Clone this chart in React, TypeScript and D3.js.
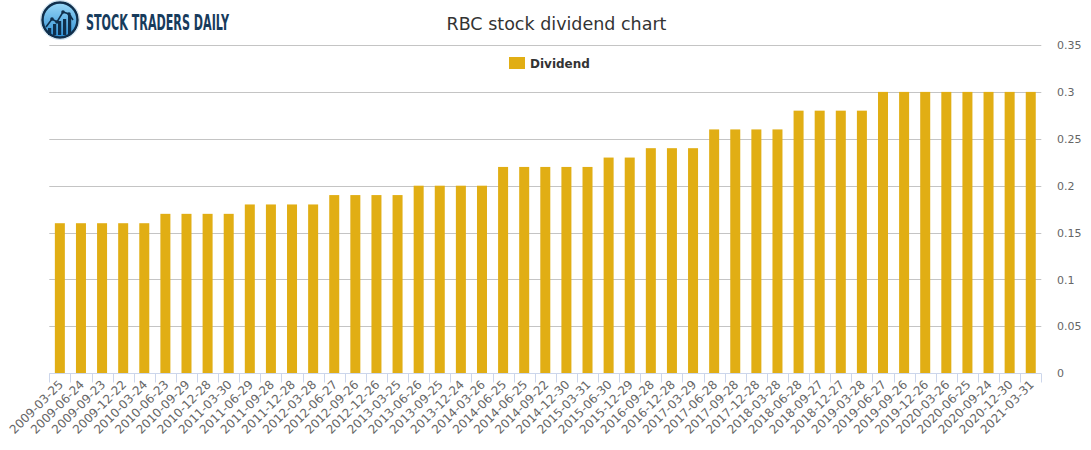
import React from "react";
import * as d3 from "d3";

const dates: string[] = [
  "2009-03-25", "2009-06-24", "2009-09-23", "2009-12-22", "2010-03-24",
  "2010-06-23", "2010-09-29", "2010-12-28", "2011-03-30", "2011-06-29",
  "2011-09-28", "2011-12-28", "2012-03-28", "2012-06-27", "2012-09-26",
  "2012-12-26", "2013-03-25", "2013-06-26", "2013-09-25", "2013-12-24",
  "2014-03-26", "2014-06-25", "2014-06-25", "2014-09-22", "2014-12-30",
  "2015-03-31", "2015-06-30", "2015-12-29", "2016-09-28", "2016-12-28",
  "2017-03-29", "2017-06-28", "2017-09-28", "2017-12-28", "2018-03-28",
  "2018-06-28", "2018-09-27", "2018-12-27", "2019-03-28", "2019-06-27",
  "2019-09-26", "2019-12-26", "2020-03-26", "2020-06-25", "2020-09-24",
  "2020-12-30", "2021-03-31",
];

const dividends: number[] = [
  0.16, 0.16, 0.16, 0.16, 0.16,
  0.17, 0.17, 0.17, 0.17,
  0.18, 0.18, 0.18, 0.18,
  0.19, 0.19, 0.19, 0.19,
  0.2, 0.2, 0.2, 0.2,
  0.22, 0.22, 0.22, 0.22, 0.22,
  0.23, 0.23,
  0.24, 0.24, 0.24,
  0.26, 0.26, 0.26, 0.26,
  0.28, 0.28, 0.28, 0.28,
  0.3, 0.3, 0.3, 0.3, 0.3, 0.3, 0.3, 0.3,
];

const yTicks: number[] = [0, 0.05, 0.1, 0.15, 0.2, 0.25, 0.3, 0.35];
const yTickLabels: string[] = ["0", "0.05", "0.1", "0.15", "0.2", "0.25", "0.3", "0.35"];

const W = 1091;
const H = 450;
const plotLeft = 49.3;
const plotRight = 1041.3;
const plotTop = 45;
const plotBottom = 373.3;
const barColor = "#E1AE14";
const gridColor = "#C4C4C4";
const axisColor = "#CCD6EB";
const font = "'DejaVu Sans', Verdana, sans-serif";

export default function App() {
  const idx = dates.map((_, i) => String(i));
  const xBar = d3
    .scaleBand<string>()
    .domain(idx)
    .range([plotLeft, plotRight])
    .paddingInner(0.526)
    .paddingOuter(0.263);
  const xBand = d3.scaleBand<string>().domain(idx).range([plotLeft, plotRight]).padding(0);
  const y = d3.scaleLinear().domain([0, 0.35]).range([plotBottom, plotTop]);

  const crisp = (v: number) => Math.round(v) + 0.5;

  const tickXs = idx.map((k) => xBand(k) as number).concat([plotRight]);

  return (
    <svg
      width={W}
      height={H}
      style={{ position: "absolute", left: 0, top: 0, background: "#fff" }}
      fontFamily={font}
    >
      <defs>
        <linearGradient id="logoFill" x1="0" y1="0" x2="0" y2="1">
          <stop offset="0%" stopColor="#9ad8f7" />
          <stop offset="100%" stopColor="#2d8fd4" />
        </linearGradient>
      </defs>
      <rect x={0} y={0} width={W} height={H} fill="#fff" />

      {/* logo */}
      <g>
        <circle cx={60} cy={20} r={17.5} fill="url(#logoFill)" stroke="#0f2f4c" strokeWidth={2.5} />
        <circle cx={60} cy={20} r={19.5} fill="none" stroke="#b9d7ea" strokeWidth={0.8} />
        {[
          [48, 28],
          [53, 24],
          [58, 21],
          [63, 19],
          [68, 15],
        ].map(([x, top], i) => (
          <rect key={i} x={x} y={top} width={3.2} height={35 - top} fill="#0f2f4c" />
        ))}
        <polyline
          points="46,27 52,19 57,22 63,12 69,14 73,20"
          fill="none"
          stroke="#0f2f4c"
          strokeWidth={1.6}
        />
        {[
          [52, 19],
          [57, 22],
          [63, 12],
          [69, 14],
        ].map(([cx, cy], i) => (
          <circle key={i} cx={cx} cy={cy} r={1.8} fill="#0f2f4c" />
        ))}
        <text
          x={86}
          y={29.5}
          fontFamily="'Liberation Sans Narrow', 'DejaVu Sans Condensed', 'Roboto Condensed', sans-serif"
          fontSize={21}
          fontWeight={700}
          fill="#173b5c"
          textLength={143}
          lengthAdjust="spacingAndGlyphs"
        >
          STOCK TRADERS DAILY
        </text>
      </g>

      {/* title */}
      <text x={556.5} y={29.5} textAnchor="middle" fontSize={17.5} fill="#333333">
        RBC stock dividend chart
      </text>

      {/* gridlines */}
      {yTicks.map((t, i) =>
        i === 0 ? null : (
          <line
            key={"g" + i}
            x1={plotLeft}
            x2={plotRight}
            y1={crisp(y(t))}
            y2={crisp(y(t))}
            stroke={gridColor}
            strokeWidth={1}
          />
        )
      )}

      {/* bars */}
      {dividends.map((v, i) => (
        <rect
          key={"b" + i}
          x={xBar(String(i))}
          y={y(v)}
          width={xBar.bandwidth()}
          height={plotBottom - y(v)}
          fill={barColor}
        />
      ))}

      {/* x axis line */}
      <line
        x1={plotLeft}
        x2={plotRight}
        y1={crisp(plotBottom)}
        y2={crisp(plotBottom)}
        stroke={axisColor}
        strokeWidth={1}
      />
      {tickXs.map((tx, i) => (
        <line
          key={"t" + i}
          x1={crisp(tx)}
          x2={crisp(tx)}
          y1={crisp(plotBottom)}
          y2={crisp(plotBottom) + 9}
          stroke={axisColor}
          strokeWidth={1}
        />
      ))}

      {/* x labels */}
      {dates.map((d, i) => {
        const cx = (xBand(String(i)) as number) + xBand.bandwidth() / 2 + 4;
        const cy = plotBottom + 12;
        return (
          <text
            key={"xl" + i}
            transform={`translate(${cx},${cy}) rotate(-45)`}
            textAnchor="end"
            fontSize={12}
            fill="#666666"
          >
            {d}
          </text>
        );
      })}

      {/* y labels */}
      {yTicks.map((t, i) => (
        <text key={"yl" + i} x={1057} y={y(t) + 4} fontSize={11} fill="#666666">
          {yTickLabels[i]}
        </text>
      ))}

      {/* legend */}
      <rect x={509} y={57} width={16} height={12} fill={barColor} />
      <text x={530} y={68} fontSize={12} fontWeight="bold" fill="#333333">
        Dividend
      </text>
    </svg>
  );
}
